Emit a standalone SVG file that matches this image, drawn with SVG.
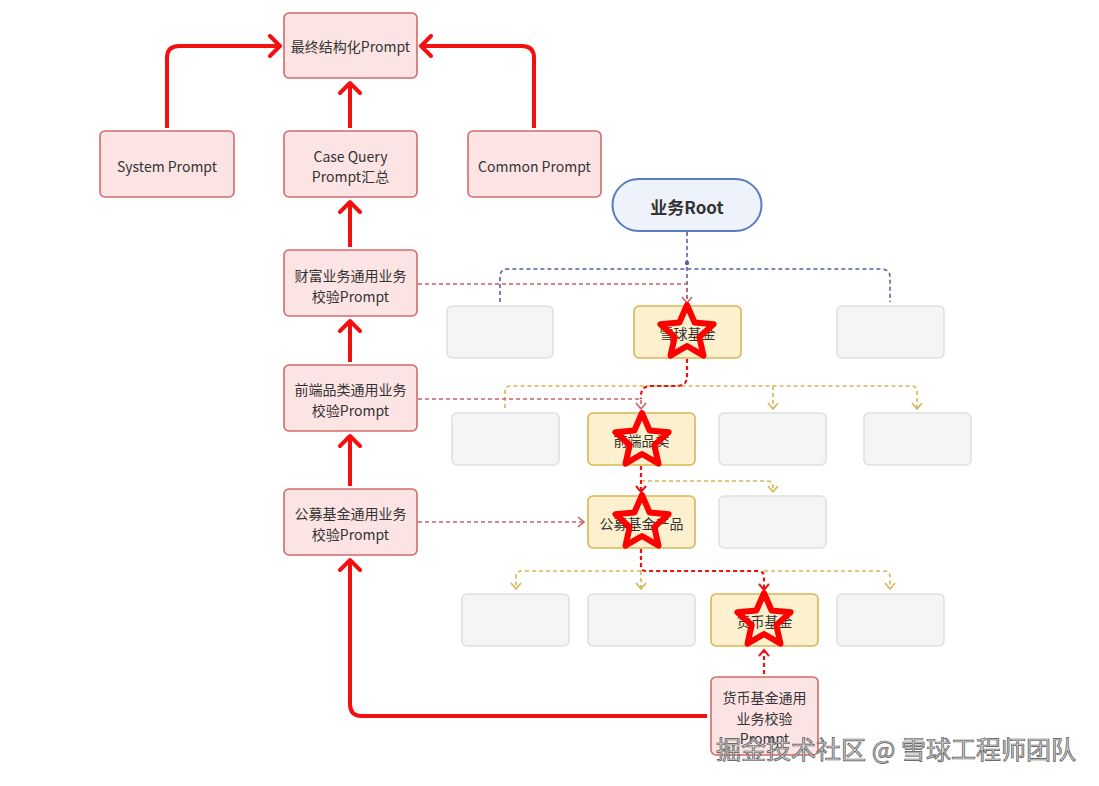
<svg xmlns="http://www.w3.org/2000/svg" width="1099" height="786" viewBox="0 0 1099 786">
<defs>
<style>
text{font-family:"Noto Sans CJK SC","Noto Sans",sans-serif;font-size:14px;fill:#333;text-anchor:middle;dominant-baseline:central}
.pk{fill:#fde4e4;stroke:#d4696b;stroke-width:1.6}
.yl{fill:#fdf0cf;stroke:#d6b656;stroke-width:1.6}
.gy{fill:#f5f5f5;stroke:#e0e0e0;stroke-width:1.6}
.thick{fill:none;stroke:#f21010;stroke-width:4;stroke-linejoin:round}
.db{fill:none;stroke:#5a5f9e;stroke-width:1.6;stroke-dasharray:4 3}
.dy{fill:none;stroke:#d6b656;stroke-width:1.6;stroke-dasharray:4 3}
.dr{fill:none;stroke:#c9616a;stroke-width:1.6;stroke-dasharray:4 3}
.dR{fill:none;stroke:#ee1111;stroke-width:2.2;stroke-dasharray:4 3}
.star{fill:none;stroke:#f00;stroke-width:6;stroke-linejoin:round}
</style>
<marker id="aT" markerUnits="userSpaceOnUse" viewBox="0 0 24 24" markerWidth="24" markerHeight="24" refX="14" refY="12" orient="auto"><path d="M4,2 L14,12 L4,22" fill="none" stroke="#f21010" stroke-width="4" stroke-linecap="round" stroke-linejoin="round"/></marker>
<marker id="aY" markerUnits="userSpaceOnUse" viewBox="0 0 12 12" markerWidth="12" markerHeight="12" refX="9" refY="6" orient="auto"><path d="M3,1 L9,6 L3,11" fill="none" stroke="#d6b656" stroke-width="1.6"/></marker>
<marker id="aR" markerUnits="userSpaceOnUse" viewBox="0 0 12 12" markerWidth="12" markerHeight="12" refX="9" refY="6" orient="auto"><path d="M3,1 L9,6 L3,11" fill="none" stroke="#c9616a" stroke-width="1.6"/></marker>
<marker id="aRR" markerUnits="userSpaceOnUse" viewBox="0 0 12 12" markerWidth="12" markerHeight="12" refX="9" refY="6" orient="auto"><path d="M3,1 L9,6 L3,11" fill="none" stroke="#ee1111" stroke-width="2"/></marker>
<path id="starShape" d="M0,-28 L7.6,-10.5 L26.6,-8.7 L12.3,4 L16.5,22.7 L0,13 L-16.5,22.7 L-12.3,4 L-26.6,-8.7 L-7.6,-10.5 Z"/>
</defs>
<rect width="1099" height="786" fill="#fff"/>

<g id="n-final"><rect class="pk" x="284" y="13" width="133" height="65" rx="5"/><text x="350.5" y="46">最终结构化Prompt</text></g>
<g id="n-system"><rect class="pk" x="100" y="131" width="134" height="66" rx="5"/><text x="167" y="166">System Prompt</text></g>
<g id="n-case"><rect class="pk" x="284" y="131" width="133" height="66" rx="5"/><text x="350.5" y="156">Case Query</text><text x="350.5" y="176">Prompt汇总</text></g>
<g id="n-common"><rect class="pk" x="468" y="131" width="133" height="66" rx="5"/><text x="534.5" y="166">Common Prompt</text></g>
<g id="n-wealth"><rect class="pk" x="284" y="250" width="133" height="66" rx="5"/><text x="350.5" y="275">财富业务通用业务</text><text x="350.5" y="296">校验Prompt</text></g>
<g id="n-front"><rect class="pk" x="284" y="365" width="133" height="66" rx="5"/><text x="350.5" y="389">前端品类通用业务</text><text x="350.5" y="410">校验Prompt</text></g>
<g id="n-public"><rect class="pk" x="284" y="489" width="133" height="66" rx="5"/><text x="350.5" y="513">公募基金通用业务</text><text x="350.5" y="534">校验Prompt</text></g>
<g id="n-money"><rect class="pk" x="711" y="677" width="107" height="78" rx="5"/><text x="764.5" y="697">货币基金通用</text><text x="764.5" y="718">业务校验</text><text x="764.5" y="738">Prompt</text></g>

<g id="n-root"><rect x="612.5" y="179" width="149" height="52" rx="26" fill="#eef3fb" stroke="#5a7bc4" stroke-width="2"/><text x="687" y="206" style="font-size:17px;font-weight:bold">业务Root</text></g>

<g id="n-r1a"><rect class="gy" x="447" y="306" width="106" height="52" rx="5"/></g>
<g id="n-xq"><rect class="yl" x="634" y="306" width="107" height="52" rx="5"/><text x="687.5" y="333">雪球基金</text></g>
<g id="n-r1c"><rect class="gy" x="837" y="306" width="107" height="52" rx="5"/></g>

<g id="n-r2a"><rect class="gy" x="452" y="413" width="107" height="52" rx="5"/></g>
<g id="n-qd"><rect class="yl" x="588" y="413" width="107" height="52" rx="5"/><text x="641.5" y="440">前端品类</text></g>
<g id="n-r2c"><rect class="gy" x="719" y="413" width="107" height="52" rx="5"/></g>
<g id="n-r2d"><rect class="gy" x="864" y="413" width="107" height="52" rx="5"/></g>

<g id="n-gm"><rect class="yl" x="588" y="496" width="107" height="52" rx="5"/><text x="641.5" y="523">公募基金产品</text></g>
<g id="n-r3b"><rect class="gy" x="719" y="496" width="107" height="52" rx="5"/></g>

<g id="n-r4a"><rect class="gy" x="462" y="594" width="107" height="52" rx="5"/></g>
<g id="n-r4b"><rect class="gy" x="588" y="594" width="107" height="52" rx="5"/></g>
<g id="n-hb"><rect class="yl" x="711" y="594" width="107" height="52" rx="5"/><text x="764.5" y="621">货币基金</text></g>
<g id="n-r4d"><rect class="gy" x="837" y="594" width="107" height="52" rx="5"/></g>

<g id="connectors">
<path class="thick" d="M167,128 V58 Q167,46 179,46 H280" marker-end="url(#aT)"/>
<path class="thick" d="M534,128 V58 Q534,46 522,46 H421" marker-end="url(#aT)"/>
<path class="thick" d="M350,128 V83" marker-end="url(#aT)"/>
<path class="thick" d="M350,247 V202" marker-end="url(#aT)"/>
<path class="thick" d="M350,362 V321" marker-end="url(#aT)"/>
<path class="thick" d="M350,486 V436" marker-end="url(#aT)"/>
<path class="thick" d="M707,716 H362 Q350,716 350,704 V560" marker-end="url(#aT)"/>

<path class="db" d="M687,232 V303"/>
<path class="db" d="M500,302 V277 Q500,269 508,269 H880 Q890,269 890,277 V302"/>
<circle cx="687" cy="263" r="2.2" fill="#5a5f9e"/>
<path class="dr" d="M418,284 H687 V303" marker-end="url(#aR)"/>

<path class="dy" d="M505,408 V392 Q505,386 511,386 H911 Q917,386 917,392 V409" marker-end="url(#aY)"/>
<path class="dy" d="M773,386 V409" marker-end="url(#aY)"/>
<path class="dR" d="M687,359 V376 Q687,386 677,386 H651 Q641,386 641,396 V399"/>
<path class="dr" d="M418,399 H641 V409" marker-end="url(#aR)"/>

<path class="dy" d="M641,481 H767 Q773,481 773,487 V492" marker-end="url(#aY)"/>
<path class="dR" d="M641,466 V492" marker-end="url(#aRR)"/>
<path class="dr" d="M418,522 H584" marker-end="url(#aR)"/>

<path class="dy" d="M641,571 H522 Q516,571 516,577 V589" marker-end="url(#aY)"/>
<path class="dy" d="M641,571 V589" marker-end="url(#aY)"/>
<path class="dy" d="M764,571 H884 Q890,571 890,577 V589" marker-end="url(#aY)"/>
<path class="dR" d="M641,549 V566 Q641,571 646,571 H758 Q764,571 764,577 V590" marker-end="url(#aRR)"/>
<path class="dR" d="M764,674 V650" marker-end="url(#aRR)"/>
</g>

<g id="stars">
<use href="#starShape" class="star" transform="translate(687,333)"/>
<use href="#starShape" class="star" transform="translate(642,441)"/>
<use href="#starShape" class="star" transform="translate(642,523)"/>
<use href="#starShape" class="star" transform="translate(764,621)"/>
</g>

<text x="896" y="748" style="font-size:25px;fill:#d0d0d0;stroke:#555;stroke-width:0.7">掘金技术社区 @ 雪球工程师团队</text>
</svg>
